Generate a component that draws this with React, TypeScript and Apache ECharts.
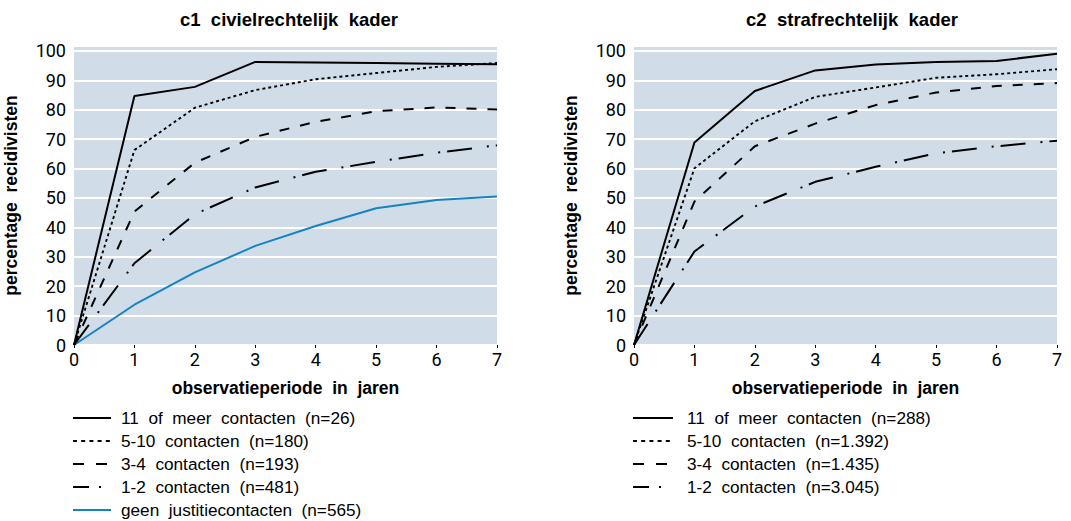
import React, { useEffect, useRef } from "react";
import * as echarts from "echarts";

const years = [0, 1, 2, 3, 4, 5, 6, 7];

const civielNames = [
  "11 of meer contacten (n=26)",
  "5-10 contacten (n=180)",
  "3-4 contacten (n=193)",
  "1-2 contacten (n=481)",
  "geen justitiecontacten (n=565)",
];
const civiel11 = [0, 84.7, 87.8, 96.3, 96.1, 95.9, 95.7, 95.5];
const civiel510 = [0, 66.3, 80.7, 86.7, 90.4, 92.5, 94.6, 95.9];
const civiel34 = [0, 45.4, 62.0, 70.8, 75.9, 79.5, 80.8, 80.1];
const civiel12 = [0, 27.8, 44.5, 53.6, 58.9, 62.3, 65.4, 67.9];
const civielGeen = [0, 13.7, 24.7, 33.7, 40.5, 46.5, 49.3, 50.5];

const strafNames = [
  "11 of meer contacten (n=288)",
  "5-10 contacten (n=1.392)",
  "3-4 contacten (n=1.435)",
  "1-2 contacten (n=3.045)",
];
const straf11 = [0, 68.9, 86.4, 93.4, 95.4, 96.3, 96.6, 99.1];
const straf510 = [0, 60.1, 76.1, 84.4, 87.6, 90.9, 92.1, 93.8];
const straf34 = [0, 48.8, 67.6, 75.3, 81.6, 85.9, 88.1, 89.1];
const straf12 = [0, 31.8, 47.1, 55.5, 60.6, 65.2, 67.6, 69.5];

const yTicks = [0, 10, 20, 30, 40, 50, 60, 70, 80, 90, 100];

const NUMFONT = "Roboto, 'Liberation Sans', sans-serif";
const FONT = "'Liberation Sans', Arial, sans-serif";
const BG = "#d0dde8";
const BLUE = "#1583c2";

const styles: any[] = [
  { color: "#000", type: "solid", width: 2 },
  { color: "#000", type: [3, 3], width: 1.9 },
  { color: "#000", type: [10, 11], width: 2 },
  { color: "#000", type: [25, 15, 2, 7], width: 2 },
  { color: BLUE, type: "solid", width: 2 },
];
const legendDash: any[] = [null, [4, 4.2], [11, 12], [16, 10, 2, 30]];

const sp = (s: string) => s.replace(/ /g, "  ");

export default function App() {
  const ref = useRef<HTMLDivElement>(null);
  useEffect(() => {
    if (!ref.current) return;
    const chart = echarts.init(ref.current, null, { renderer: "svg" });

    const mk = (name: string, data: number[], idx: number, s: any, i: number) => ({
      name,
      type: "line",
      xAxisIndex: idx,
      yAxisIndex: idx,
      data: years.map((x, k) => [x, data[k]]),
      symbol: "none",
      color: s.color,
      lineStyle: { color: s.color, type: s.type, width: s.width },
      z: 10 - i,
    });

    const left = [civiel11, civiel510, civiel34, civiel12, civielGeen];
    const right = [straf11, straf510, straf34, straf12];

    const xAxisBase = (gi: number) => ({
      type: "value",
      gridIndex: gi,
      min: 0,
      max: 7,
      interval: 1,
      name: sp("observatieperiode in jaren"),
      nameLocation: "middle",
      nameGap: 34,
      nameTextStyle: { fontFamily: FONT, fontSize: 17.5, fontWeight: "bold", color: "#000" },
      axisLine: { show: false },
      axisTick: { show: true, length: 3, lineStyle: { color: "#000", width: 1 } },
      axisLabel: { fontFamily: NUMFONT, fontSize: 18, color: "#000", margin: 5 },
      splitLine: { show: false },
    });
    const yAxisBase = (gi: number) => ({
      type: "value",
      gridIndex: gi,
      min: 0,
      max: 101.7,
      interval: 10,
      name: sp("percentage recidivisten"),
      nameLocation: "middle",
      nameGap: 54,
      nameTextStyle: { fontFamily: FONT, fontSize: 17.5, fontWeight: "bold", color: "#000" },
      axisLine: { show: false },
      axisTick: { show: false },
      axisLabel: {
        fontFamily: NUMFONT,
        fontSize: 18,
        color: "#000",
        margin: 8,
        formatter: (v: number) => (yTicks.indexOf(v) >= 0 ? String(v) : ""),
      },
      splitLine: { show: true, lineStyle: { color: "#fff", width: 2 } },
    });

    const legendItems = (names: string[], x1: number, x2: number, tx: number) => {
      const items: any[] = [];
      names.forEach((n, i) => {
        const y = 418 + i * 23;
        const s = styles[i];
        items.push({
          type: "line",
          shape: { x1, y1: y, x2, y2: y },
          style: { stroke: s.color, lineWidth: 2, lineDash: legendDash[i] || null },
        });
        items.push({
          type: "text",
          x: tx,
          y,
          style: {
            text: sp(n),
            fontFamily: FONT,
            fontSize: 17.2,
            fill: "#000",
            verticalAlign: "middle",
            align: "left",
          },
        });
      });
      return items;
    };

    chart.setOption({
      animation: false,
      backgroundColor: "#fff",
      title: [
        {
          text: "c1  civielrechtelijk  kader",
          left: 284,
          top: 5,
          textAlign: "center",
          textStyle: { fontFamily: FONT, fontSize: 18.5, fontWeight: "bold", color: "#000" },
        },
        {
          text: "c2  strafrechtelijk  kader",
          left: 847,
          top: 5,
          textAlign: "center",
          textStyle: { fontFamily: FONT, fontSize: 18.5, fontWeight: "bold", color: "#000" },
        },
      ],
      grid: [
        { left: 74, top: 46, width: 423, height: 299, show: true, backgroundColor: BG, borderWidth: 0 },
        { left: 634, top: 46, width: 423, height: 299, show: true, backgroundColor: BG, borderWidth: 0 },
      ],
      xAxis: [xAxisBase(0), xAxisBase(1)],
      yAxis: [yAxisBase(0), yAxisBase(1)],
      graphic: [
        ...legendItems(civielNames, 73, 111, 121),
        ...legendItems(strafNames, 633, 673, 687),
      ],
      series: [
        ...civielNames.map((n, i) => mk(n, left[i], 0, styles[i], i)),
        ...strafNames.map((n, i) => mk(n, right[i], 1, styles[i], i)),
      ],
    });
    return () => chart.dispose();
  }, []);
  return (
    <div
      ref={ref}
      style={{ position: "fixed", left: 0, top: 0, width: 1071, height: 521 }}
    />
  );
}
